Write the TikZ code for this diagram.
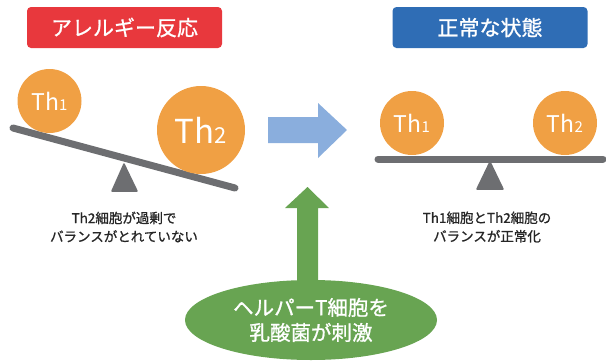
\documentclass[tikz,border=0pt]{standalone}
\usepackage{fontspec}
\setmainfont{Noto Sans CJK JP}
\newfontfamily\medfont[FakeBold=1]{Noto Sans CJK JP}
\usetikzlibrary{shapes.geometric}
\definecolor{tred}{HTML}{E8383D}
\definecolor{tblue}{HTML}{2F6DB5}
\definecolor{torange}{HTML}{F0A044}
\definecolor{tgray}{HTML}{6D6E71}
\definecolor{lblue}{HTML}{8AAEDD}
\definecolor{tgreen}{HTML}{68A452}
\tikzset{
  titlebox/.style={rounded corners=4pt, minimum width=195pt, minimum height=41pt, inner sep=0pt, text=white, font=\medfont\fontsize{21}{22}\selectfont},
  cell/.style={circle, fill=torange, inner sep=0pt, text=white},
  beam/.style={tgray, line width=7pt, line cap=round},
  pivot/.style={fill=tgray, draw=tgray, line width=1.5pt, line join=round},
  caption/.style={align=center, font=\medfont\fontsize{13.5}{18.5}\selectfont, text=black!85},
}
\begin{document}
\begin{tikzpicture}[x=1pt,y=-1pt]
\useasboundingbox (0,0) rectangle (606,362);
% titles
\node[titlebox, fill=tred] (t1) at (124.5,27.5) {アレルギー反応};
\node[titlebox, fill=tblue] (t2) at (490,27.5) {正常な状態};
% left seesaw
\coordinate (lb1) at (13,128);
\coordinate (lb2) at (235,188);
\draw[pivot] (124,164) -- (137,191) -- (112,191) -- cycle;
\draw[beam] (lb1) -- (lb2);
\node[cell, minimum size=64pt, font=\fontsize{23}{24}\selectfont] (l1) at (49.5,101) {Th{\fontsize{15}{16}\selectfont 1}};
\node[cell, minimum size=88pt, font=\fontsize{33}{34}\selectfont] (l2) at (201,130) {Th{\fontsize{22}{23}\selectfont 2}};
% right seesaw
\coordinate (rb1) at (378,159);
\coordinate (rb2) at (603,159);
\draw[pivot] (490,162) -- (503,189) -- (477,189) -- cycle;
\draw[beam] (rb1) -- (rb2);
\node[cell, minimum size=64pt, font=\fontsize{23}{24}\selectfont] (r1) at (412,123) {Th{\fontsize{15}{16}\selectfont 1}};
\node[cell, minimum size=64pt, font=\fontsize{23}{24}\selectfont] (r2) at (565,123) {Th{\fontsize{15}{16}\selectfont 2}};
% captions
\node[caption] (c1) at (124,227) {Th2細胞が過剰で\\バランスがとれていない};
\node[caption] (c2) at (487,227) {Th1細胞とTh2細胞の\\バランスが正常化};
% blue arrow
\fill[lblue] (268,117) -- (318,117) -- (318,103) -- (347,130) -- (318,158) -- (318,143) -- (268,143) -- cycle;
% green arrow and ellipse
\coordinate (tip) at (307.5,187);
\fill[tgreen] (297,290) -- (297,208) -- (285,208) -- (tip) -- (329,208) -- (318,208) -- (318,290) -- cycle;
\node[ellipse, fill=tgreen, minimum width=252pt, minimum height=80pt, inner sep=0pt, align=center, text=white, font=\medfont\fontsize{20.5}{25}\selectfont] (e) at (311,320) {ヘルパーT細胞を\\乳酸菌が刺激};
\end{tikzpicture}
\end{document}
